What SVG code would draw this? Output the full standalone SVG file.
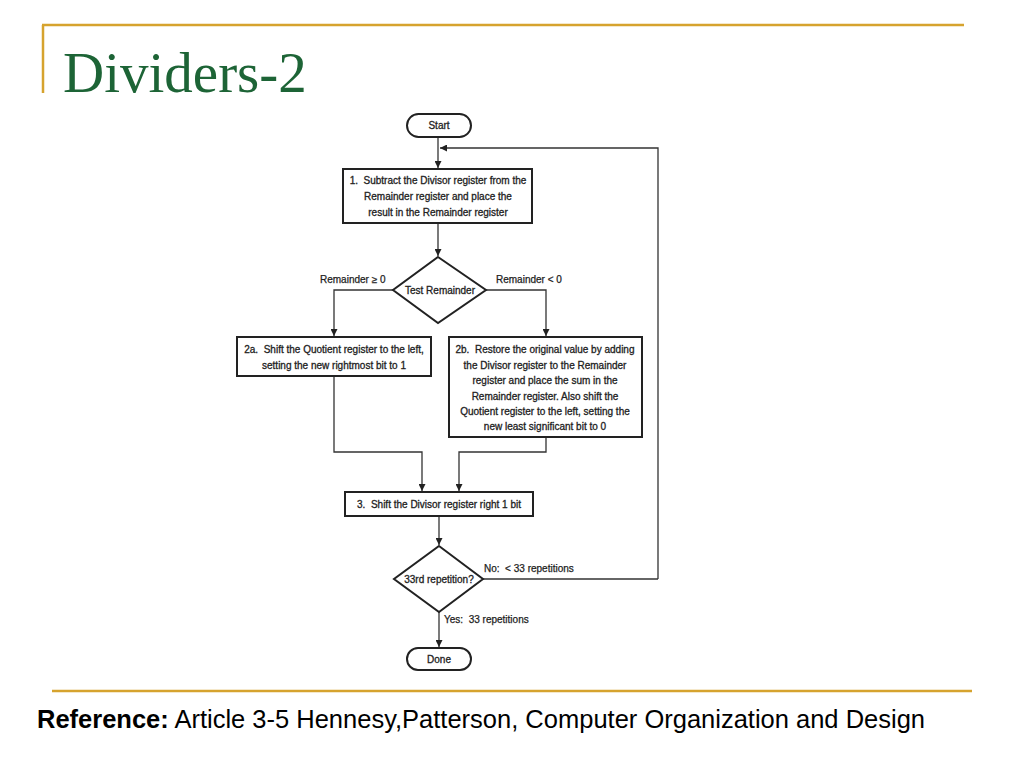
<svg xmlns="http://www.w3.org/2000/svg" width="1024" height="768" viewBox="0 0 1024 768">
<defs>
<marker id="ah" viewBox="0 0 10 10" refX="10" refY="5" markerWidth="7" markerHeight="7" markerUnits="userSpaceOnUse" orient="auto">
<path d="M0,0 L10,5 L0,10 Z" fill="#222"/>
</marker>
<style>
.box{fill:#fff;stroke:#222;stroke-width:2}
.ln{fill:none;stroke:#333;stroke-width:1.3}
.t{font-family:"Liberation Sans",Arial,sans-serif;font-size:10px;fill:#222;stroke:#222;stroke-width:0.3;text-anchor:middle}
.lb{font-family:"Liberation Sans",Arial,sans-serif;font-size:10px;fill:#222;stroke:#222;stroke-width:0.25}
.gold{stroke:#D6A32E;stroke-width:2.5}
</style>
</defs>
<rect width="1024" height="768" fill="#fff"/>
<line class="gold" x1="42" y1="25" x2="964" y2="25"/>
<line class="gold" x1="43" y1="25" x2="43" y2="93" stroke-width="2"/>
<text x="63" y="92" font-family="Liberation Serif,Times New Roman,serif" font-size="57" fill="#1d6436">Dividers-2</text>
<line class="gold" x1="52" y1="691" x2="972" y2="691"/>
<text x="37" y="728" font-family="Liberation Sans,Arial,sans-serif" font-size="25.5" fill="#000" textLength="888" lengthAdjust="spacingAndGlyphs"><tspan font-weight="bold">Reference:</tspan> Article 3-5 Hennesy,Patterson, Computer Organization and Design</text>

<g id="connectors">
<path class="ln" d="M438,137 V168" marker-end="url(#ah)"/>
<path class="ln" d="M658,579 V148 H440" marker-end="url(#ah)"/>
<path class="ln" d="M483,579 H658"/>
<path class="ln" d="M438,223 V256" marker-end="url(#ah)"/>
<path class="ln" d="M393,290 H334 V336" marker-end="url(#ah)"/>
<path class="ln" d="M486,290 H546 V336" marker-end="url(#ah)"/>
<path class="ln" d="M334,376 V452 H422 V491" marker-end="url(#ah)"/>
<path class="ln" d="M546,437 V452 H459 V491" marker-end="url(#ah)"/>
<path class="ln" d="M439,516 V545" marker-end="url(#ah)"/>
<path class="ln" d="M439,612 V647" marker-end="url(#ah)"/>
<text class="lb" x="320" y="283">Remainder ≥ 0</text>
<text class="lb" x="496" y="283">Remainder &lt; 0</text>
<text class="lb" x="484" y="572" xml:space="preserve">No:  &lt; 33 repetitions</text>
<text class="lb" x="444" y="623" xml:space="preserve">Yes:  33 repetitions</text>
</g>

<g id="start">
<rect class="box" x="407" y="114" width="64" height="23" rx="11.5"/>
<text class="t" x="439" y="129">Start</text>
</g>
<g id="step1">
<rect class="box" x="343" y="169" width="189" height="54"/>
<text class="t" x="438" y="184" xml:space="preserve">1.  Subtract the Divisor register from the</text>
<text class="t" x="438" y="200">Remainder register and place the</text>
<text class="t" x="438" y="216">result in the Remainder register</text>
</g>
<g id="test">
<polygon class="box" points="438,257 486,290 438,323 393,290"/>
<text class="t" x="440" y="294" font-size="10.5">Test Remainder</text>
</g>
<g id="step2a">
<rect class="box" x="237" y="337" width="194" height="39"/>
<text class="t" x="334" y="353" xml:space="preserve">2a.  Shift the Quotient register to the left,</text>
<text class="t" x="334" y="369">setting the new rightmost bit to 1</text>
</g>
<g id="step2b">
<rect class="box" x="449" y="337" width="193" height="100"/>
<text class="t" x="545" y="353" xml:space="preserve">2b.  Restore the original value by adding</text>
<text class="t" x="545" y="369">the Divisor register to the Remainder</text>
<text class="t" x="545" y="384">register and place the sum in the</text>
<text class="t" x="545" y="400">Remainder register. Also shift the</text>
<text class="t" x="545" y="415">Quotient register to the left, setting the</text>
<text class="t" x="545" y="430">new least significant bit to 0</text>
</g>
<g id="step3">
<rect class="box" x="345" y="492" width="188" height="24"/>
<text class="t" x="439" y="508" xml:space="preserve">3.  Shift the Divisor register right 1 bit</text>
</g>
<g id="rep">
<polygon class="box" points="439,546 483,579 439,612 394,579"/>
<text class="t" x="439" y="583">33rd repetition?</text>
</g>
<g id="done">
<rect class="box" x="407" y="648" width="64" height="22" rx="11"/>
<text class="t" x="439" y="663">Done</text>
</g>
</svg>
